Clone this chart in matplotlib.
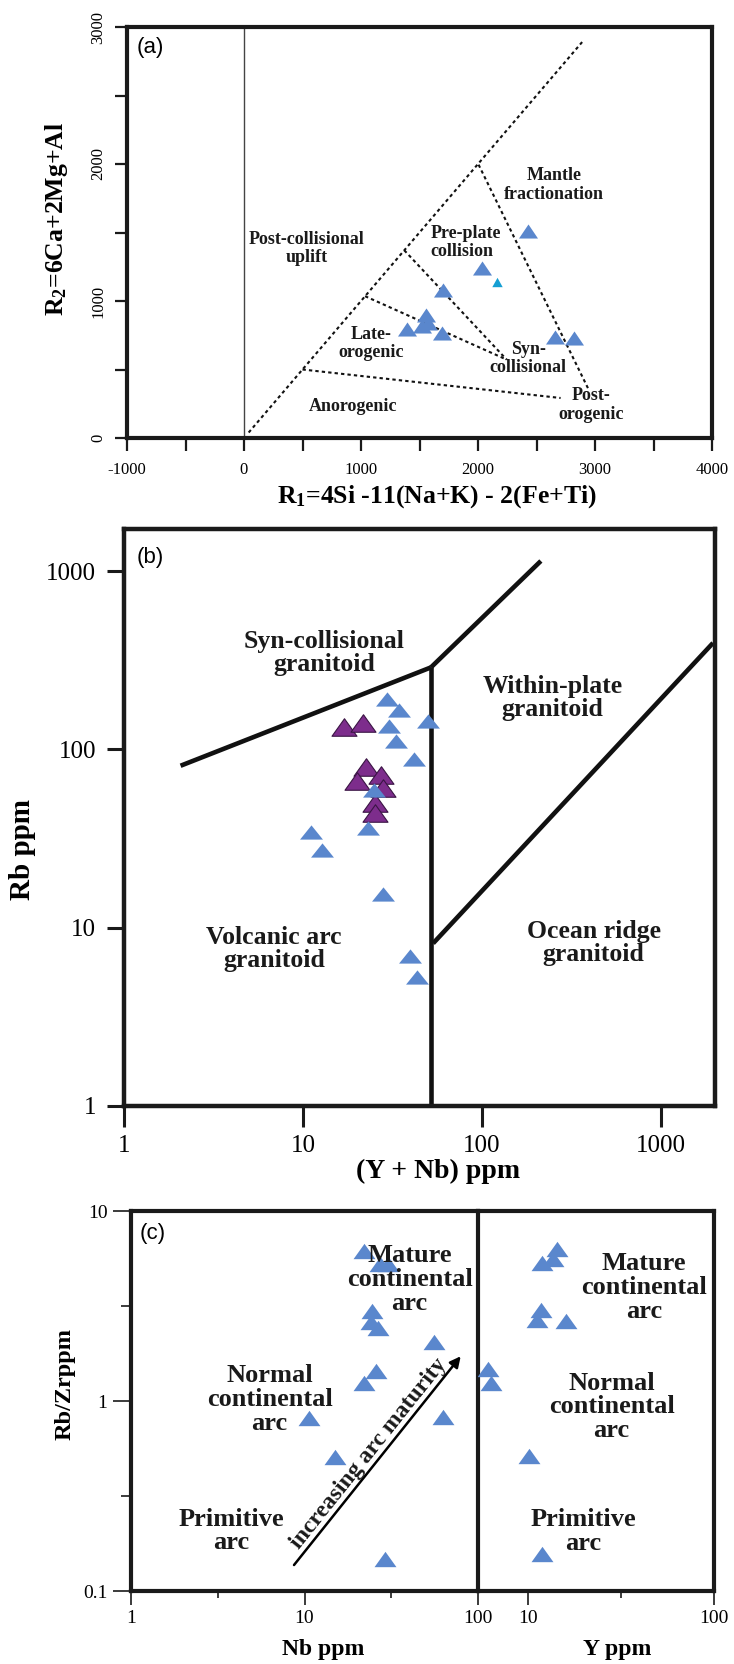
import matplotlib
matplotlib.use('Agg')
import matplotlib.pyplot as plt
import numpy as np
from matplotlib.path import Path
from matplotlib.ticker import NullLocator, FixedLocator, NullFormatter

plt.rcParams['font.family'] = ['Liberation Serif', 'DejaVu Serif']
plt.rcParams['mathtext.fontset'] = 'custom'
plt.rcParams['mathtext.rm'] = 'Liberation Serif:bold'
plt.rcParams['mathtext.it'] = 'Liberation Serif:italic:bold'
plt.rcParams['mathtext.bf'] = 'Liberation Serif:bold'

# ---------------- data ----------------
# (a) R1-R2 diagram
a_R1 = [2430, 2031, 1704, 1556, 1575, 1519, 1390, 1690, 2661, 2823]
a_R2 = [1514, 1243, 1080, 898, 842, 818, 793, 764, 735, 728]
a_R1_small = [2165]
a_R2_small = [1141]
a_boundaries = [
    ([40, 2890], [40, 2890]),
    ([2005, 2946], [1995, 353]),
    ([1370, 2245], [1370, 572]),
    ([1035, 2245], [1035, 572]),
    ([500, 2706], [500, 292]),
]
a_labels = ["Mantle\nfractionation", "Pre-plate\ncollision", "Post-collisional\nuplift",
            "Late-\norogenic", "Syn-\ncollisional", "Post-\norogenic", "Anorogenic"]
a_label_x = [2648, 1596, 535, 1088, 2428, 2968, 936]
a_label_y = [1846, 1426, 1381, 691, 580, 241, 231]
a_label_ha = ['center', 'left', 'center', 'center', 'center', 'center', 'center']

# (b) Rb vs (Y+Nb)
b_blue_x = [29.4, 34.2, 49.6, 30.3, 33.2, 41.8, 24.8, 23.0, 11.1, 12.8, 28.1, 39.5, 43.3]
b_blue_y = [191, 166, 144, 135, 111, 88, 59, 36, 34.5, 27.1, 15.4, 6.95, 5.28]
b_purple_x = [16.9, 21.6, 22.6, 27.4, 20.0, 27.9, 25.3, 25.3]
b_purple_y = [134, 141, 80, 71.8, 66.4, 60.4, 50, 43.7]
b_boundaries = [
    ([2.07, 51.8], [80.9, 288]),
    ([51.8, 213], [288, 1138]),
    ([51.8, 51.8], [1, 288]),
    ([53.3, 1950], [8.17, 395]),
]
b_labels = ["Syn-collisional\ngranitoid", "Within-plate\ngranitoid",
            "Volcanic arc\ngranitoid", "Ocean ridge\ngranitoid"]
b_label_x = [13.1, 247, 6.91, 420]
b_label_y = [347, 194, 7.63, 8.2]

# (c) Rb/Zr vs Nb and Y
c_nb = [22.1, 27.4, 30.1, 24.5, 24.2, 26.6, 55.9, 25.8, 22.1, 10.6, 63.2, 14.9, 29.0]
c_nb_rbzr = [6.17, 5.26, 5.26, 2.99, 2.61, 2.43, 2.05, 1.43, 1.25, 0.815, 0.82, 0.51, 0.147]
c_y = [14.3, 13.7, 12.0, 11.8, 11.2, 16.0, 6.13, 6.38, 10.1, 11.9]
c_y_rbzr = [6.3, 5.57, 5.33, 3.03, 2.67, 2.64, 1.48, 1.25, 0.515, 0.156]
c_labels = ["Mature\ncontinental\narc", "Normal\ncontinental\narc", "Primitive\narc"]
c_left_label_x = [40.3, 6.29, 3.78]
c_left_label_y = [4.35, 1.02, 0.207]
c_right_label_x = [42.2, 28.2, 19.9]
c_right_label_y = [3.97, 0.93, 0.205]
c_arrow_start = (8.7, 0.137)
c_arrow_end = (79.5, 1.72)

# ---------------- styles ----------------
W, H = 734, 1664
BLUE = '#5a87cd'
PURPLE = '#7d2d8c'
CYAN = '#159fd3'


def frac(l, t, r, b):
    return [l / W, 1 - b / H, (r - l) / W, (b - t) / H]


def tri(ratio):
    v = np.array([[-1, -ratio], [1, -ratio], [0, ratio], [-1, -ratio]])
    return Path(v, closed=True)


def style_spines(ax, lw):
    for s in ax.spines.values():
        s.set_linewidth(lw)
        s.set_color('#1a1a1a')


fig = plt.figure(figsize=(W / 100, H / 100), dpi=100)

# ================= (a) =================
axA = fig.add_axes(frac(127, 27, 712, 438))
axA.set_xlim(-1000, 4000)
axA.set_ylim(0, 3000)
xt = np.arange(-1000, 4001, 500)
axA.set_xticks(xt)
axA.set_xticklabels([str(int(v)) if v % 1000 == 0 else '' for v in xt])
yt = np.arange(0, 3001, 500)
axA.set_yticks(yt)
axA.set_yticklabels([str(int(v)) if v % 1000 == 0 else '' for v in yt],
                    rotation=90, va='center')
axA.tick_params(direction='out', length=9, width=1.6, labelsize=12, pad=8,
                color='#1a1a1a')
axA.tick_params(axis='y', pad=6)
style_spines(axA, 3.0)
axA.axvline(0, color='#444444', lw=1.0, zorder=1)
for xs, ys in a_boundaries:
    axA.plot(xs, ys, color='#111111', lw=1.5, ls=(0, (1.6, 1.5)), zorder=2)
for t, x, y, ha in zip(a_labels, a_label_x, a_label_y, a_label_ha):
    axA.text(x, y, t, ha=ha, va='center', fontsize=13, fontweight='bold',
             linespacing=1.1, color='#1a1a1a', zorder=4)
axA.plot(a_R1, a_R2, ls='none', marker=tri(0.74), ms=13.7, color=BLUE,
         markeredgewidth=0, zorder=3)
axA.plot(a_R1_small, a_R2_small, ls='none', marker=tri(0.9), ms=7.5, color=CYAN,
         markeredgewidth=0, zorder=3)
fig.text(150 / W, 1 - 47 / H, '(a)', family='Liberation Sans', fontsize=16,
         ha='center', va='center')
fig.text(437 / W, 1 - 497 / H, r'$\mathrm{R}_{1}$=4Si -11(Na+K) - 2(Fe+Ti)',
         ha='center', va='center', fontsize=18.5, fontweight='bold')
fig.text(57 / W, 1 - 219 / H, r'$\mathrm{R}_{2}$=6Ca+2Mg+Al', rotation=90,
         ha='center', va='center', fontsize=18.5, fontweight='bold')

# ================= (b) =================
axB = fig.add_axes(frac(124, 529, 715, 1106))
axB.set_xscale('log')
axB.set_yscale('log')
axB.set_xlim(1, 2000)
axB.set_ylim(1, 1720)
axB.xaxis.set_major_locator(FixedLocator([1, 10, 100, 1000]))
axB.yaxis.set_major_locator(FixedLocator([1, 10, 100, 1000]))
axB.xaxis.set_minor_locator(NullLocator())
axB.yaxis.set_minor_locator(NullLocator())
axB.set_xticklabels(['1', '10', '100', '1000'])
axB.set_yticklabels(['1', '10', '100', '1000'])
axB.tick_params(direction='out', width=2.2, labelsize=18, color='#1a1a1a')
axB.tick_params(axis='x', length=15, pad=6)
axB.tick_params(axis='y', length=12, pad=8)
style_spines(axB, 3.2)
for xs, ys in b_boundaries:
    axB.plot(xs, ys, color='#111111', lw=3.3, solid_capstyle='butt', zorder=2)
for t, x, y in zip(b_labels, b_label_x, b_label_y):
    axB.text(x, y, t, ha='center', va='center', fontsize=18.5, fontweight='bold',
             linespacing=1.0, color='#1a1a1a', zorder=4)
axB.plot(b_purple_x, b_purple_y, ls='none', marker=tri(0.7), ms=18, color=PURPLE,
         markeredgecolor='#3a1544', markeredgewidth=0.8, zorder=3)
axB.plot(b_blue_x, b_blue_y, ls='none', marker=tri(0.62), ms=16.5, color=BLUE,
         markeredgewidth=0, zorder=3)
fig.text(150 / W, 1 - 557 / H, '(b)', family='Liberation Sans', fontsize=16,
         ha='center', va='center')
fig.text(438 / W, 1 - 1171 / H, '(Y + Nb) ppm', ha='center', va='center',
         fontsize=20, fontweight='bold')
fig.text(23 / W, 1 - 850 / H, 'Rb ppm', rotation=90, ha='center', va='center',
         fontsize=21, fontweight='bold')

# ================= (c) =================
axCL = fig.add_axes(frac(131, 1211, 478, 1591))
axCR = fig.add_axes(frac(478, 1211, 714, 1591))
axCR.patch.set_visible(False)
for ax in (axCL, axCR):
    ax.set_xscale('log')
    ax.set_yscale('log')
    ax.set_ylim(0.1, 10)
    style_spines(ax, 3.0)
    ax.tick_params(which='major', direction='out', length=10, width=1.2,
                   labelsize=14, pad=4, color='#1a1a1a')
    ax.tick_params(which='minor', direction='out', length=5, width=1.2,
                   color='#1a1a1a')
axCL.spines['right'].set_zorder(10)
axCL.set_xlim(1, 100)
axCR.set_xlim(5.41, 100)
axCL.xaxis.set_major_locator(FixedLocator([1, 10, 100]))
axCL.xaxis.set_minor_locator(FixedLocator([10 ** 0.5, 10 ** 1.5]))
axCL.set_xticklabels(['1', '10', '100'])
axCL.yaxis.set_major_locator(FixedLocator([0.1, 1, 10]))
axCL.yaxis.set_minor_locator(FixedLocator([10 ** -0.5, 10 ** 0.5]))
axCL.set_yticklabels(['0.1', '1', '10'])
axCL.tick_params(axis='y', which='major', length=13)
axCL.tick_params(axis='y', which='minor', length=7)
axCL.xaxis.set_minor_formatter(NullFormatter())
axCL.yaxis.set_minor_formatter(NullFormatter())
axCR.xaxis.set_major_locator(FixedLocator([10, 100]))
axCR.xaxis.set_minor_locator(FixedLocator([10 ** 1.5]))
axCR.set_xticklabels(['10', '100'])
axCR.xaxis.set_minor_formatter(NullFormatter())
axCR.yaxis.set_major_locator(NullLocator())
axCR.yaxis.set_minor_locator(NullLocator())
axCR.spines['left'].set_visible(False)

axCL.plot(c_nb, c_nb_rbzr, ls='none', marker=tri(0.7), ms=15.8, color=BLUE,
          markeredgewidth=0, zorder=3)
axCR.plot(c_y, c_y_rbzr, ls='none', marker=tri(0.7), ms=15.8, color=BLUE,
          markeredgewidth=0, zorder=3)
for t, x, y in zip(c_labels, c_left_label_x, c_left_label_y):
    axCL.text(x, y, t, ha='center', va='center', fontsize=19, fontweight='bold',
              linespacing=1.05, color='#1a1a1a', zorder=4)
for t, x, y in zip(c_labels, c_right_label_x, c_right_label_y):
    axCR.text(x, y, t, ha='center', va='center', fontsize=19, fontweight='bold',
              linespacing=1.05, color='#1a1a1a', zorder=4)
axCL.annotate('', xy=c_arrow_end, xytext=c_arrow_start,
              arrowprops=dict(arrowstyle='-|>', lw=1.8, color='black',
                              mutation_scale=16, shrinkA=0, shrinkB=0), zorder=4)
axCL.text(23.4, 0.526, 'increasing arc maturity', rotation=51.4,
          rotation_mode='anchor', ha='center', va='center', fontsize=17,
          fontweight='bold', color='#1a1a1a', zorder=4)
fig.text(153 / W, 1 - 1233 / H, '(c)', family='Liberation Sans', fontsize=16,
         ha='center', va='center')
fig.text(323 / W, 1 - 1650 / H, 'Nb ppm', ha='center', va='center',
         fontsize=17, fontweight='bold')
fig.text(617 / W, 1 - 1650 / H, 'Y ppm', ha='center', va='center',
         fontsize=17, fontweight='bold')
fig.text(65 / W, 1 - 1384 / H, 'Rb/Zrppm', rotation=90, ha='center', va='center',
         fontsize=17.5, fontweight='bold')

fig.savefig('out.png', dpi=100)
